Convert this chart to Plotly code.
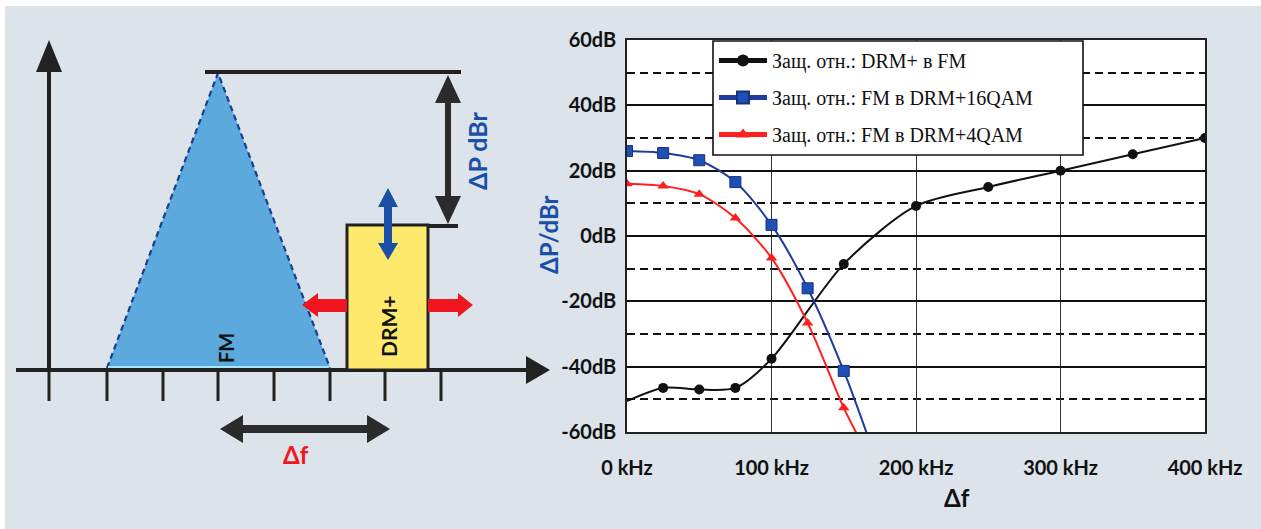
import plotly.graph_objects as go

W, H = 1261, 529

# ---- data: protection ratios vs frequency offset ----
freq_drm_in_fm = [0, 25, 50, 75, 100, 150, 200, 250, 300, 350, 400]
ratio_drm_in_fm = [-50.5, -46.5, -47.0, -46.5, -37.6, -8.6, 9.2, 15.0, 20.0, 25.0, 30.0]
marker_drm_in_fm = [0, 10, 10, 10, 10, 10, 10, 10, 10, 10, 10]

freq_fm_in_16qam = [0, 25, 50, 75, 100, 125, 150, 166]
ratio_fm_in_16qam = [26.0, 25.4, 23.2, 16.5, 3.4, -16.0, -41.3, -60.5]
marker_fm_in_16qam = [11, 11, 11, 11, 11, 11, 11, 0]

freq_fm_in_4qam = [0, 25, 50, 75, 100, 125, 150, 159]
ratio_fm_in_4qam = [16.0, 15.3, 12.8, 5.5, -6.7, -26.6, -52.6, -60.5]
marker_fm_in_4qam = [10, 10, 10, 10, 10, 10, 10, 0]

series_names = [
    "Защ. отн.: DRM+ в FM",
    "Защ. отн.: FM в DRM+16QAM",
    "Защ. отн.: FM в DRM+4QAM",
]

x_tick_vals = [0, 100, 200, 300, 400]
x_tick_text = ["0 kHz", "100 kHz", "200 kHz", "300 kHz", "400 kHz"]
y_tick_vals = [60, 40, 20, 0, -20, -40, -60]
y_tick_text = ["60dB", "40dB", "20dB", "0dB", "-20dB", "-40dB", "-60dB"]

BG = "#dce3ea"
SANS = "Lato, 'Open Sans', sans-serif"


def px(x):
    return x / W


def py(y):
    return 1 - y / H


def poly(points):
    return "M " + " L ".join(f"{px(x):.5f},{py(y):.5f}" for x, y in points) + " Z"


fig = go.Figure()

fig.add_trace(go.Scatter(
    x=freq_drm_in_fm, y=ratio_drm_in_fm, name=series_names[0],
    mode="lines+markers", line=dict(color="#111111", width=2, shape="spline", smoothing=0.8),
    marker=dict(symbol="circle", size=marker_drm_in_fm, color="#111111", opacity=1,
                line=dict(width=0)),
    legendgroup="a",
))
fig.add_trace(go.Scatter(
    x=freq_fm_in_16qam, y=ratio_fm_in_16qam, name=series_names[1],
    mode="lines+markers", line=dict(color="#1f3c9c", width=2, shape="spline", smoothing=0.8),
    marker=dict(symbol="square", size=marker_fm_in_16qam, color="#1e4fb4", opacity=1,
                line=dict(color="#17307f", width=1)),
    legendgroup="b",
))
fig.add_trace(go.Scatter(
    x=freq_fm_in_4qam, y=ratio_fm_in_4qam, name=series_names[2],
    mode="lines+markers", line=dict(color="#ff1f1f", width=2, shape="spline", smoothing=0.8),
    marker=dict(symbol="triangle-up", size=marker_fm_in_4qam, color="#ff1f1f", opacity=1,
                line=dict(width=0)),
    legendgroup="c",
))

x0, x1 = 627, 1205
y0, y1 = 40, 432

fig.update_xaxes(
    domain=[px(x0), px(x1)], range=[0, 400], automargin=False,
    tickvals=x_tick_vals, ticktext=x_tick_text,
    tickfont=dict(family=SANS, size=20, color="#111111", weight="bold"),
    ticks="", ticklabelstandoff=17,
    showgrid=True, gridcolor="#333333", gridwidth=1.3,
    showline=True, linecolor="#222222", linewidth=1.5, mirror=True,
    zeroline=False, fixedrange=True,
)
fig.update_yaxes(
    domain=[py(y1), py(y0)], range=[-60, 60], automargin=False,
    tickvals=y_tick_vals, ticktext=y_tick_text,
    tickfont=dict(family=SANS, size=20, color="#111111", weight="bold"),
    ticks="", ticklabelstandoff=5,
    showgrid=True, gridcolor="#111111", gridwidth=2,
    minor=dict(dtick=10, tick0=0, showgrid=True, gridcolor="#111111",
               gridwidth=1.6, griddash="8px,5px"),
    showline=True, linecolor="#222222", linewidth=1.5, mirror=True,
    zeroline=False, fixedrange=True,
)

shapes = []
annotations = []

# white strip along the top and left edges
shapes.append(dict(type="rect", xref="paper", yref="paper", x0=0, x1=1, y0=py(6), y1=1,
                   fillcolor="white", line=dict(width=0), layer="below"))
shapes.append(dict(type="rect", xref="paper", yref="paper", x0=0, x1=px(5), y0=0, y1=1,
                   fillcolor="white", line=dict(width=0), layer="below"))

# legend frame
shapes.append(dict(type="rect", xref="paper", yref="paper",
                   x0=px(713), x1=px(1083), y0=py(155), y1=py(41),
                   fillcolor="white", line=dict(color="#111111", width=1.6), layer="above"))

# ---- schematic on the left ----
AX = "#222222"
# vertical axis with arrowhead
shapes.append(dict(type="line", xref="paper", yref="paper", x0=px(49), x1=px(49),
                   y0=py(370), y1=py(68), line=dict(color=AX, width=4)))
shapes.append(dict(type="path", xref="paper", yref="paper",
                   path=poly([(49, 40), (36, 72), (62, 72)]), fillcolor=AX, line=dict(width=0)))
# horizontal axis with arrowhead
shapes.append(dict(type="line", xref="paper", yref="paper", x0=px(16), x1=px(530),
                   y0=py(370), y1=py(370), line=dict(color=AX, width=4)))
shapes.append(dict(type="path", xref="paper", yref="paper",
                   path=poly([(550, 370), (526, 356), (526, 384)]), fillcolor=AX, line=dict(width=0)))
# tick marks
for tx in [49, 107, 163, 218, 274, 330, 385, 441]:
    shapes.append(dict(type="line", xref="paper", yref="paper", x0=px(tx), x1=px(tx),
                       y0=py(370), y1=py(401), line=dict(color=AX, width=3)))

# FM spectrum triangle
shapes.append(dict(type="path", xref="paper", yref="paper",
                   path=poly([(107, 368), (218, 73), (330, 368)]),
                   fillcolor="#5ba9dd", line=dict(width=0)))
shapes.append(dict(type="path", xref="paper", yref="paper",
                   path="M " + " L ".join(f"{px(a):.5f},{py(b):.5f}" for a, b in [(107, 368), (218, 73), (330, 368)]),
                   line=dict(color="#173f8e", width=2.2, dash="6px,4px")))
shapes.append(dict(type="line", xref="paper", yref="paper", x0=px(108), x1=px(329),
                   y0=py(367), y1=py(367), line=dict(color="#a6e6f6", width=2)))

# reference level lines
shapes.append(dict(type="line", xref="paper", yref="paper", x0=px(205), x1=px(461),
                   y0=py(72), y1=py(72), line=dict(color=AX, width=4)))
shapes.append(dict(type="line", xref="paper", yref="paper", x0=px(426), x1=px(458),
                   y0=py(226), y1=py(226), line=dict(color=AX, width=4)))
# ΔP double arrow
shapes.append(dict(type="line", xref="paper", yref="paper", x0=px(448), x1=px(448),
                   y0=py(100), y1=py(200), line=dict(color="#2b2b2b", width=6)))
shapes.append(dict(type="path", xref="paper", yref="paper",
                   path=poly([(448, 75), (435, 103), (461, 103)]), fillcolor="#2b2b2b", line=dict(width=0)))
shapes.append(dict(type="path", xref="paper", yref="paper",
                   path=poly([(448, 224), (435, 196), (461, 196)]), fillcolor="#2b2b2b", line=dict(width=0)))

# DRM+ block
shapes.append(dict(type="rect", xref="paper", yref="paper", x0=px(347), x1=px(428),
                   y0=py(370), y1=py(225), fillcolor="#fde96c", line=dict(color=AX, width=3)))

# blue up/down arrow
BLUE = "#1a4fa6"
shapes.append(dict(type="path", xref="paper", yref="paper",
                   path=poly([(388, 188), (378, 207), (384, 207), (384, 243), (378, 243), (388, 260),
                              (398, 243), (392, 243), (392, 207), (398, 207)]),
                   fillcolor=BLUE, line=dict(width=0)))

# red left/right arrows
RED = "#f01620"
shapes.append(dict(type="path", xref="paper", yref="paper",
                   path=poly([(302, 305), (318, 293), (318, 299), (347, 299), (347, 312), (318, 312), (318, 317)]),
                   fillcolor=RED, line=dict(width=0)))
shapes.append(dict(type="path", xref="paper", yref="paper",
                   path=poly([(473, 305), (458, 293), (458, 299), (428, 299), (428, 312), (458, 312), (458, 317)]),
                   fillcolor=RED, line=dict(width=0)))

# Δf double arrow
shapes.append(dict(type="path", xref="paper", yref="paper",
                   path=poly([(220, 429), (243, 415), (243, 425), (367, 425), (367, 415), (390, 429),
                              (367, 443), (367, 433), (243, 433), (243, 443)]),
                   fillcolor="#2b2b2b", line=dict(width=0)))


def label(x, y, text, size, color, angle=0):
    return dict(x=px(x), y=py(y), xref="paper", yref="paper", text=text, showarrow=False,
                xanchor="center", yanchor="middle", textangle=angle,
                font=dict(family=SANS, size=size, color=color, weight="bold"))


annotations += [
    label(296, 454, "Δf", 24, RED),
    label(477, 151, "ΔP dBr", 25, BLUE, -90),
    label(226, 348, "FM", 20, "#111111", -90),
    label(388, 326, "DRM+", 21, "#111111", -90),
    # chart axis titles
    label(548, 235, "ΔP/dBr", 24, BLUE, -90),
    label(957, 497, "Δf", 24, "#111111"),
]

fig.update_layout(
    template="none",
    width=W, height=H,
    margin=dict(l=0, r=0, t=0, b=0, autoexpand=False),
    paper_bgcolor=BG, plot_bgcolor="white",
    shapes=shapes, annotations=annotations,
    showlegend=True,
    legend=dict(
        x=px(714), y=py(41), xanchor="left", yanchor="top",
        bgcolor="rgba(0,0,0,0)", borderwidth=0,
        font=dict(family="'Liberation Serif', 'Times New Roman', serif", size=20, color="#111111"),
        itemwidth=48, itemsizing="constant", tracegroupgap=8, traceorder="grouped",
    ),
)

fig.write_html("out.html")
